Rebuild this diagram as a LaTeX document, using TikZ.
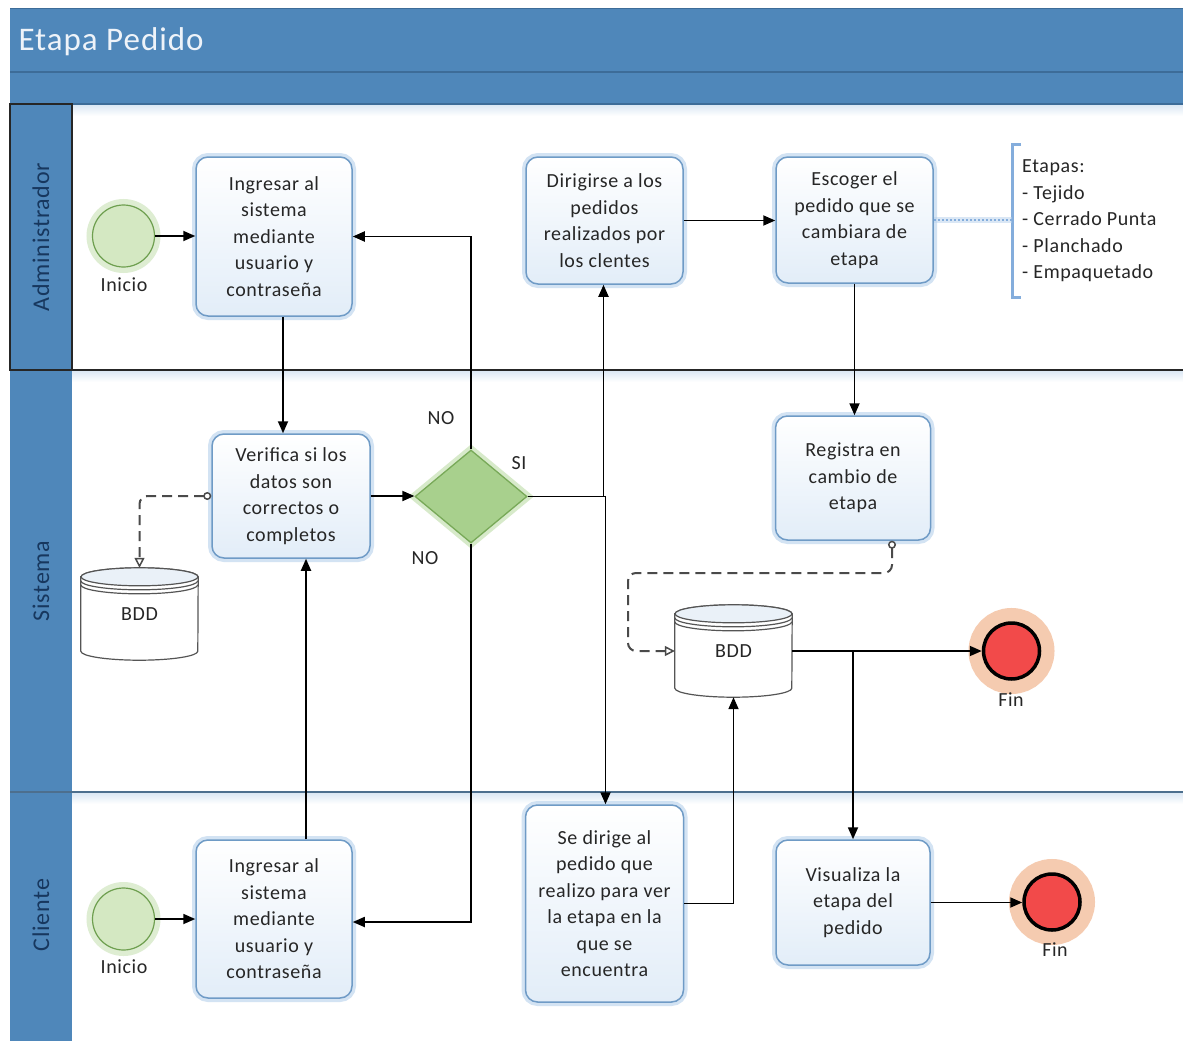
\documentclass[tikz,border=0pt]{standalone}
\usepackage{fontspec}
\setmainfont{Carlito}[LetterSpace=3]
\usetikzlibrary{arrows.meta,shapes.geometric,calc}

\definecolor{poolblue}{HTML}{4F87BA}
\definecolor{pooldark}{HTML}{3D6C98}
\definecolor{laneline}{HTML}{4D6F8E}
\definecolor{laneshade}{HTML}{DCE8F4}
\definecolor{lanetext}{HTML}{17375E}
\definecolor{titletext}{HTML}{EEF3F9}
\definecolor{taskedge}{HTML}{6F9BC6}
\definecolor{taskglow}{HTML}{B6D1EC}
\definecolor{taskfill}{HTML}{E2EDF8}
\definecolor{startfill}{HTML}{D4E8C2}
\definecolor{startedge}{HTML}{6E9F4F}
\definecolor{startglow}{HTML}{C3DFAE}
\definecolor{gatefill}{HTML}{A8D08D}
\definecolor{gateedge}{HTML}{78A958}
\definecolor{endfill}{HTML}{F24A4A}
\definecolor{endglow}{HTML}{F5C6A8}
\definecolor{txt}{HTML}{262626}
\definecolor{dashgray}{HTML}{4A4A4A}
\definecolor{dbedge}{HTML}{555555}
\definecolor{dbtopfill}{HTML}{EAF1F8}
\definecolor{annblue}{HTML}{84ADDC}

% cylinder drawn over an empty named node
\newcommand\dbshape[1]{%
  \path[dbbody] ($(#1.north west)+(0,9)$) -- ($(#1.south west)+(0,-9)$)
     arc[start angle=180,end angle=0,x radius=58.5,y radius=9]
     -- ($(#1.north east)+(0,9)$)
     arc[start angle=0,end angle=-180,x radius=58.5,y radius=9] -- cycle;
  \draw[dbtop] ($(#1.north)+(0,9)$) ellipse[x radius=58.5,y radius=9];
  \draw[dbline] ($(#1.north west)+(0,13)$) arc[start angle=180,end angle=0,x radius=58.5,y radius=9];
  \draw[dbline] ($(#1.north west)+(0,17)$) arc[start angle=180,end angle=0,x radius=58.5,y radius=9];
}

\begin{document}
\begin{tikzpicture}[x=1pt,y=-1pt,
  basefont/.style={font=\fontsize{20}{26.5}\selectfont},
  taskbox/.style={basefont, draw=taskedge, line width=1.5pt, rounded corners=12pt,
    top color=white, bottom color=taskfill,
    preaction={draw=taskglow, line width=8pt, opacity=0.6},
    align=center, text=txt, inner sep=2pt},
  startev/.style={circle, minimum size=62pt, inner sep=0, fill=startfill,
    draw=startedge, line width=1.2pt,
    preaction={draw=startglow, line width=12pt, opacity=0.55}},
  endev/.style={circle, minimum size=56pt, inner sep=0, fill=endfill,
    draw=black, line width=3.5pt,
    preaction={draw=endglow, line width=30pt, opacity=0.9}},
  gate/.style={diamond, minimum width=112pt, minimum height=93pt, inner sep=0,
    fill=gatefill, draw=gateedge, line width=1.3pt,
    preaction={draw=startglow, line width=9pt, opacity=0.65}},
  dbnode/.style={minimum width=117pt, minimum height=92pt, inner sep=0},
  dbbody/.style={fill=white, draw=dbedge, line width=1.2pt},
  dbtop/.style={fill=dbtopfill, draw=dbedge, line width=1.2pt},
  dbline/.style={draw=dbedge, line width=1.2pt},
  lbl/.style={basefont, text=txt, inner sep=1pt},
  lanelabel/.style={font=\fontsize{24}{28}\selectfont, text=lanetext, rotate=90},
  flow/.style={draw=black, line width=1.8pt, -{Triangle[length=12pt,width=10pt]}},
  assoc/.style={draw=dashgray, line width=2pt, dash pattern=on 10pt off 6pt,
    rounded corners=8pt,
    {Circle[open,length=8pt,width=8pt,fill=white,line width=1.5pt]}-{Triangle[open,length=10pt,width=10pt,fill=white,line width=1.5pt]}},
  annline/.style={draw=annblue, line width=2pt, dotted,
    preaction={draw=taskglow, solid, line width=6pt, opacity=0.5}},
  bracketline/.style={draw=annblue, line width=3pt}
]
\useasboundingbox (0,0) rectangle (1183,1041);
\fill[white] (0,0) rectangle (1183,1041);

% pool header
\fill[poolblue] (10,8) rectangle (1183,104);
\draw[pooldark, line width=1.5pt] (10,8.5) -- (1183,8.5);
\draw[pooldark, line width=1.2pt] (10,72) -- (1183,72);
\draw[pooldark, line width=1.5pt] (10,104) -- (1183,104);
\shade[top color=laneshade, bottom color=white] (72,105) rectangle (1183,116);
\node[font=\fontsize{33}{36}\selectfont, text=titletext, anchor=west] (title) at (15,42) {Etapa Pedido};

% lanes
\fill[poolblue] (10,104) rectangle (72,1041);
\shade[top color=laneshade, bottom color=white] (72,371) rectangle (1183,382);
\shade[top color=laneshade, bottom color=white] (72,793) rectangle (1183,804);
\draw[laneline, line width=1.5pt] (10,792) -- (1183,792);
\draw[black!85, line width=1.6pt] (10,104) rectangle (72,370);
\draw[black!85, line width=1.6pt] (72,370) -- (1183,370);

\node[lanelabel] (lnAdm) at (41,237) {Administrador};
\node[lanelabel] (lnSis) at (41,581) {Sistema};
\node[lanelabel] (lnCli) at (41,915) {Cliente};

% Administrador
\node[startev] (iniA) at (123.5,236) {};
\node[lbl] (iniAl) at (124,285) {Inicio};
\node[taskbox, minimum width=156pt, minimum height=159pt] (t1) at (274,236.5)
  {Ingresar al\\sistema\\mediante\\usuario y\\contraseña};
\node[taskbox, minimum width=157pt, minimum height=127pt] (dir) at (604.5,220.5)
  {Dirigirse a los\\pedidos\\realizados por\\los clentes};
\node[taskbox, minimum width=157pt, minimum height=126pt] (esc) at (854.5,220)
  {Escoger el\\pedido que se\\cambiara de\\etapa};
\node[lbl, align=left, anchor=west, inner xsep=10pt, minimum height=152pt] (ann) at (1012,221)
  {Etapas:\\- Tejido\\- Cerrado Punta\\- Planchado\\- Empaquetado};
\draw[bracketline] ([xshift=9pt]ann.north west) -- (ann.north west) -- (ann.south west) -- ([xshift=9pt]ann.south west);

% Sistema
\node[taskbox, minimum width=158pt, minimum height=124pt] (ver) at (291,496)
  {Verifica si los\\datos son\\correctos o\\completos};
\node[gate] (dia) at (471,496.5) {};
\node[lbl] (noTop) at (441,418) {NO};
\node[lbl] (siLbl) at (519,463) {SI};
\node[lbl] (noBot) at (425,558) {NO};
\node[taskbox, minimum width=155pt, minimum height=124pt] (reg) at (853,478)
  {Registra en\\cambio de\\etapa};

\node[dbnode] (bddL) at (139.5,614) {};
\dbshape{bddL}
\node[lbl] (bddLt) at (bddL) {BDD};
\node[dbnode] (bddR) at (733.5,651) {};
\dbshape{bddR}
\node[lbl] (bddRt) at (bddR) {BDD};

\node[endev] (finS) at (1011.5,651) {};
\node[lbl] (finSl) at (1011,700) {Fin};

% Cliente
\node[startev] (iniC) at (123.5,919) {};
\node[lbl] (iniCl) at (124,967) {Inicio};
\node[taskbox, minimum width=156pt, minimum height=158pt] (t2) at (274,919)
  {Ingresar al\\sistema\\mediante\\usuario y\\contraseña};
\node[taskbox, minimum width=158pt, minimum height=197pt] (sed) at (604.5,903.5)
  {Se dirige al\\pedido que\\realizo para ver\\la etapa en la\\que se\\encuentra};
\node[taskbox, minimum width=154pt, minimum height=125pt] (vis) at (853,902.5)
  {Visualiza la\\etapa del\\pedido};
\node[endev] (finC) at (1052,902) {};
\node[lbl] (finCl) at (1055,950) {Fin};

% connectors
\coordinate (bendR) at (628,573);
\draw[flow] (iniA.east) -- (iniA.east -| t1.west);
\draw[flow] ([xshift=9pt]t1.south) -- ([xshift=9pt]t1.south |- ver.north);
\draw[flow] (ver.east) -- (ver.east -| dia.west);
\draw[flow] (dia.north) |- (t1.east);
\draw[flow] (dia.south) |- ([yshift=-3pt]t2.east);
\draw[flow] (dia.east) -| ([xshift=-1pt]dir.south);
\draw[flow] (dia.east) -| ([xshift=1pt]sed.north);
\draw[flow] (dir.east) -- (dir.east -| esc.west);
\draw[flow] (esc.south) -- (esc.south |- reg.north);
\draw[annline] (esc.east) -- (esc.east -| ann.west);
\draw[assoc] ([xshift=39pt]reg.south) |- (bendR) |- (bddR.west);
\draw[assoc] (ver.west) -| (bddL.north);
\draw[flow] ([xshift=32pt]t2.north) -- ([xshift=32pt]t2.north |- ver.south);
\draw[flow] (sed.east) -| (bddR.south);
\draw[flow] (bddR.east) -- (finS.west);
\draw[flow] (bddR.east) -| (vis.north);
\draw[flow] (vis.east) -- (vis.east -| finC.west);
\draw[flow] (iniC.east) -- (iniC.east -| t2.west);
\end{tikzpicture}
\end{document}
